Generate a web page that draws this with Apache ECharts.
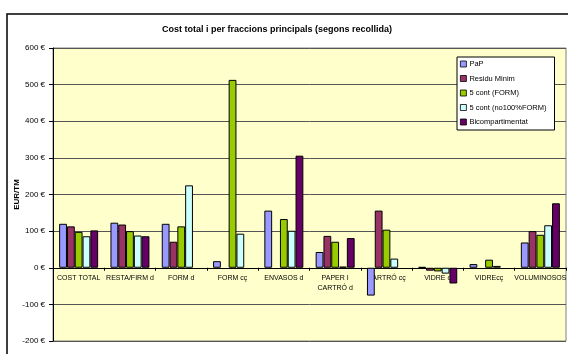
<!DOCTYPE html>
<html><head><meta charset="utf-8">
<script src="https://cdn.jsdelivr.net/npm/echarts@6/dist/echarts.min.js"></script>
<style>html,body{margin:0;padding:0;background:#fff}#c{width:568px;height:354px}</style>
</head><body><div id="c"></div>
<script>
const categories = ["COST TOTAL","RESTA/FIRM d","FORM d","FORM cç","ENVASOS d","PAPER I\nCARTRÓ d","CARTRÓ cç","VIDRE d","VIDREcç","VOLUMINOSOS"];
const seriesNames = ["PaP","Residu Minim","5 cont (FORM)","5 cont (no100%FORM)","Bicompartimentat"];
const pap = [120, 123, 120, 18, 156, 43, -76, 2, 10, 69];
const residu = [113, 118, 71, null, null, 87, 156, -8, null, 100];
const cont5 = [98, 100, 113, 513, 133, 71, 104, -10, 22, 90];
const cont5no100 = [86, 88, 225, 93, 101, 3, 25, -16, 5, 116];
const bicomp = [102, 86, null, null, 306, 81, null, -43, null, 176];
const colors = ["#9999FF","#993366","#99CC00","#CCFFFF","#660066"];
const yTicks = {min: -200, max: 600, interval: 100};
const yAxisTitle = 'EUR/TM';
const allData = [pap, residu, cont5, cont5no100, bicomp];

const FONT = "Liberation Sans, Arial, sans-serif";
const W = 568, H = 354, GT = 48, GB = 13, GL = 53;
const plotH = H - GT - GB;
// place the category axis at value 0 of the value scale
const zeroOffset = -plotH * (0 - yTicks.min) / (yTicks.max - yTicks.min);

const chart = echarts.init(document.getElementById('c'), null, {renderer: 'canvas'});
chart.setOption({
  animation: false,
  color: colors,
  title: {
    text: "Cost total i per fraccions principals (segons recollida)",
    left: 272, top: 20, textAlign: 'center',
    textStyle: {fontFamily: FONT, fontSize: 9, fontWeight: 'bold', color: '#000'}
  },
  graphic: [{
    type: 'rect', shape: {x: 7, y: 14, width: 600, height: 400}, z: -10,
    style: {fill: 'none', stroke: '#000', lineWidth: 1.5}
  }, {
    type: 'text', x: 17, y: GT + plotH / 2, rotation: Math.PI / 2,
    style: {text: yAxisTitle, fontFamily: FONT, fontSize: 8, fontWeight: 'bold', fill: '#000',
            align: 'center', verticalAlign: 'middle'}
  }],
  legend: {
    orient: 'vertical', left: 457, top: 57, width: 97,
    padding: [3, 8, 4, 3], itemGap: 6.5,
    backgroundColor: '#fff', borderColor: '#000', borderWidth: 1,
    itemWidth: 6, itemHeight: 6, icon: 'rect',
    itemStyle: {borderColor: '#000', borderWidth: 0.8},
    textStyle: {fontFamily: FONT, fontSize: 7.5, color: '#000', padding: [0,0,0,-2]},
    data: seriesNames
  },
  grid: {
    left: GL, right: 2, top: GT, bottom: GB, show: true,
    backgroundColor: '#FFFFCC', borderColor: '#808080', borderWidth: 1,
    containLabel: false, outerBoundsMode: 'none'
  },
  xAxis: {
    type: 'category', data: categories, offset: zeroOffset,
    axisLine: {onZero: false, lineStyle: {color: '#000', width: 1}},
    axisTick: {show: true, length: 3, lineStyle: {color: '#000'}},
    axisLabel: {fontFamily: FONT, fontSize: 7, color: '#000', margin: 5, interval: 0, lineHeight: 10},
    splitLine: {show: false}
  },
  yAxis: {
    type: 'value', min: yTicks.min, max: yTicks.max, interval: yTicks.interval,
    axisLine: {show: true, lineStyle: {color: '#000'}},
    axisTick: {show: true, length: 4, lineStyle: {color: '#000'}},
    axisLabel: {fontFamily: FONT, fontSize: 8, color: '#000', margin: 8, formatter: v => v + ' €'},
    splitLine: {show: true, lineStyle: {color: '#555', width: 1}}
  },
  series: allData.map((d, i) => ({
    name: seriesNames[i], type: 'bar', data: d,
    barGap: '0%', barCategoryGap: '24%',
    itemStyle: {color: colors[i], borderColor: '#000', borderWidth: 1}
  }))
});
</script></body></html>
